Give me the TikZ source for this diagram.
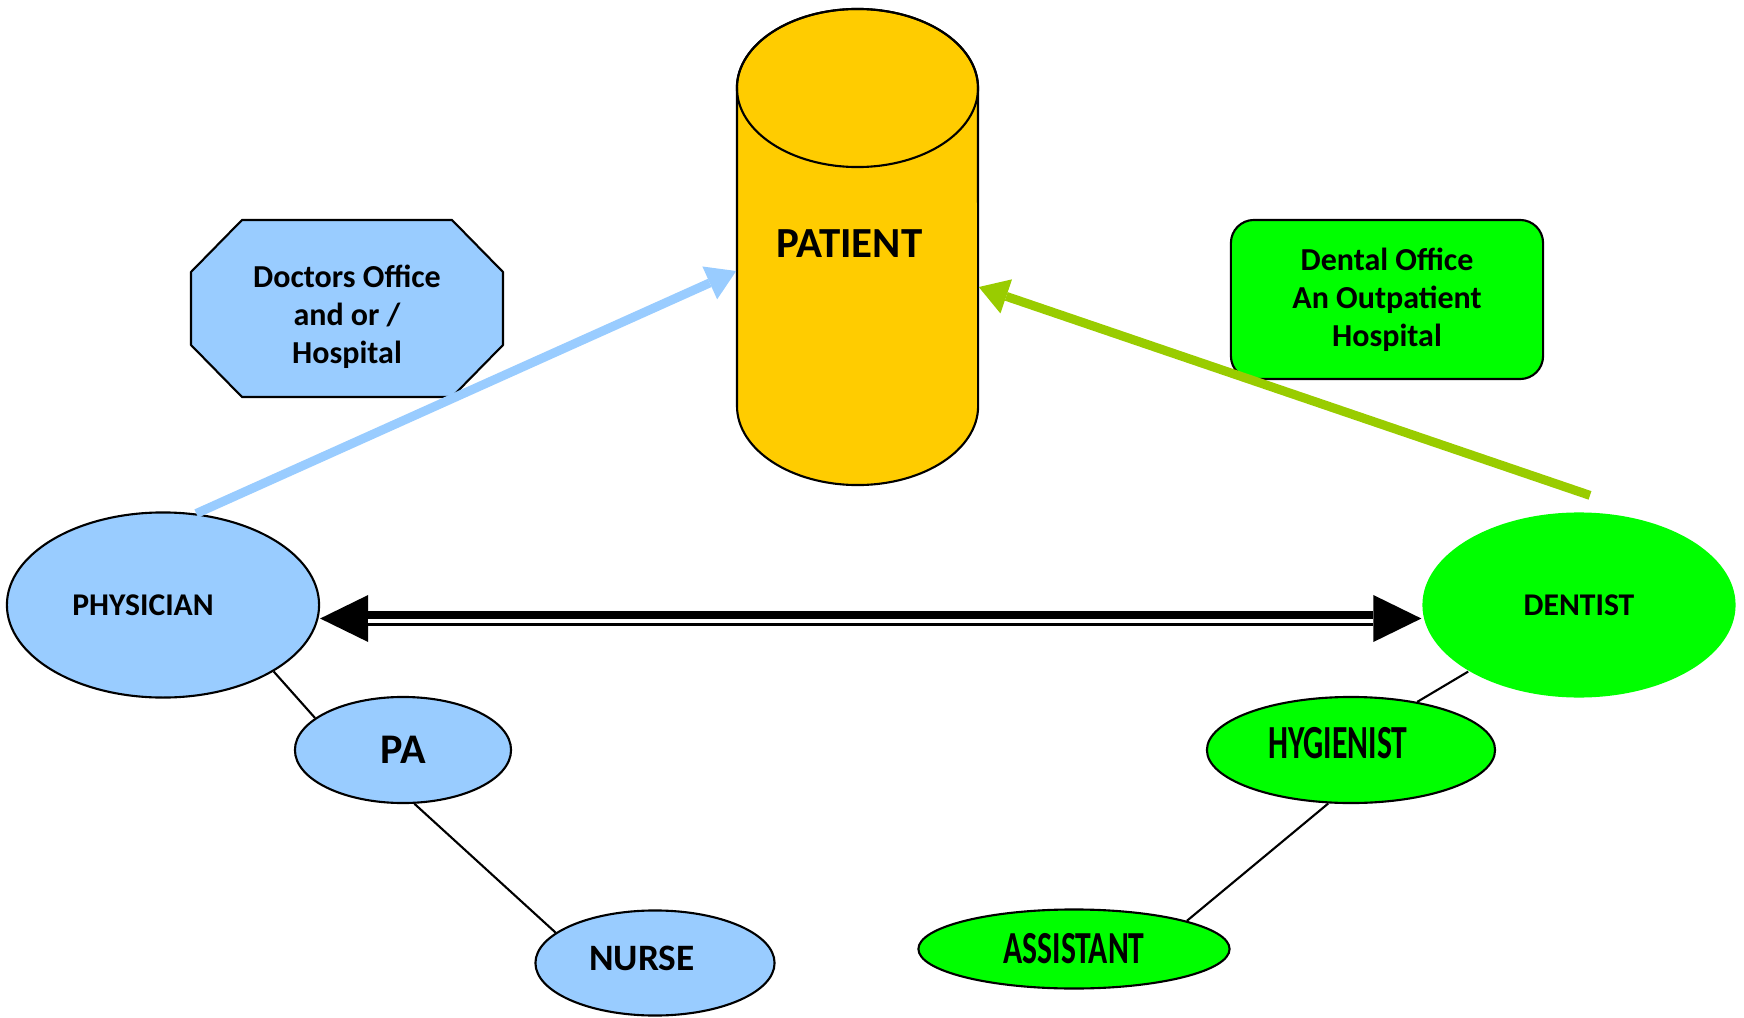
\documentclass[tikz,border=0pt]{standalone}
\usepackage{fontspec}
\setmainfont{Carlito}
\usepackage{graphicx}
\usetikzlibrary{arrows.meta,shapes.geometric}
\definecolor{careBlue}{RGB}{153,204,255}
\definecolor{careGreen}{RGB}{0,255,0}
\definecolor{careOlive}{RGB}{153,204,0}
\definecolor{careGold}{RGB}{255,204,0}

\begin{document}
\begin{tikzpicture}[
    x=0.01cm, y=-0.01cm,
    staff/.style={ellipse, draw=black, line width=0.6pt, fill=#1, inner sep=0pt, font=\bfseries\fontsize{9}{11}\selectfont},
    sitebox/.style={align=center, font=\bfseries\fontsize{9.1}{10.8}\selectfont},
    link/.style={draw=black, line width=0.6pt},
    feed/.style={-{Triangle[length=0.29cm, width=0.36cm, line width=0pt]}, line width=0.09cm, draw=#1}
]
\useasboundingbox (0,0) rectangle (1744,1018);
\draw[fill=careBlue, line width=0.6pt] (242,220) -- (452,220) -- (503,272) -- (503,345) -- (452,397) -- (242,397) -- (191,345) -- (191,272) -- cycle;
\node[sitebox] (office) at (347,317) {Doctors Office\\and or /\\Hospital};
\node[sitebox, draw=black, line width=0.6pt, fill=careGreen, rounded corners=0.23cm, minimum width=3.12cm, minimum height=1.59cm] (dental) at (1387,299.5) {Dental Office\\An Outpatient\\Hospital};
\draw[fill=careGold, line width=0.6pt] (737,88) -- (737,406) arc[start angle=180, end angle=360, x radius=1.205cm, y radius=0.79cm] -- (978,88) arc[start angle=0, end angle=180, x radius=1.205cm, y radius=0.79cm] -- cycle;
\draw[line width=0.6pt] (857.5,88) ellipse[x radius=1.205cm, y radius=0.79cm];
\node[minimum width=2.41cm, font=\bfseries\fontsize{12.2}{14}\selectfont] (patient) at (857.5,244) {PATIENT\hspace*{0.16cm}};
\node[staff=careBlue, minimum width=3.12cm, minimum height=1.85cm] (physician) at (163,605) {PHYSICIAN\hspace*{0.4cm}};
\node[staff=careGreen, draw=none, minimum width=3.13cm, minimum height=1.85cm] (dentist) at (1579,605) {DENTIST};
\node[staff=careBlue, minimum width=2.16cm, minimum height=1.06cm, font=\bfseries\fontsize{12}{14}\selectfont] (pa) at (403,750) {PA};
\node[staff=careBlue, minimum width=2.39cm, minimum height=1.05cm, text depth=0.09cm, font=\bfseries\fontsize{10.6}{12}\selectfont] (nurse) at (655,963) {NURSE\hspace*{0.26cm}};
\node[staff=careGreen, minimum width=2.88cm, minimum height=1.06cm, text depth=0.14cm] (hygienist) at (1351,750) {\scalebox{1}[1.5]{HYGIENIST}\hspace*{0.26cm}};
\node[staff=careGreen, minimum width=3.11cm, minimum height=0.79cm] (assistant) at (1074,949) {\scalebox{1}[1.45]{ASSISTANT}};
\draw[link] (physician.-31) -- (pa.160);
\draw[link] (pa.-78) -- (nurse.163);
\draw[link] (dentist.211) -- (hygienist.36);
\draw[link] (hygienist.247) -- (assistant.14);
\draw[line width=0.15cm, {Triangle[length=0.48cm, width=0.47cm, line width=0pt]}-{Triangle[length=0.48cm, width=0.47cm, line width=0pt]}] ([yshift=-0.135cm]physician.east) -- ([yshift=-0.135cm]dentist.west);
\draw[white, line width=0.04cm, shorten <=0.48cm, shorten >=0.48cm] ([yshift=-0.16cm]physician.east) -- ([yshift=-0.16cm]dentist.west);
\draw[feed=careBlue] (physician.70) -- ([yshift=-0.27cm]patient.west);
\draw[feed=careOlive] ([xshift=0.11cm, yshift=0.16cm]dentist.north) -- ([yshift=-0.43cm]patient.east);
\end{tikzpicture}
\end{document}
